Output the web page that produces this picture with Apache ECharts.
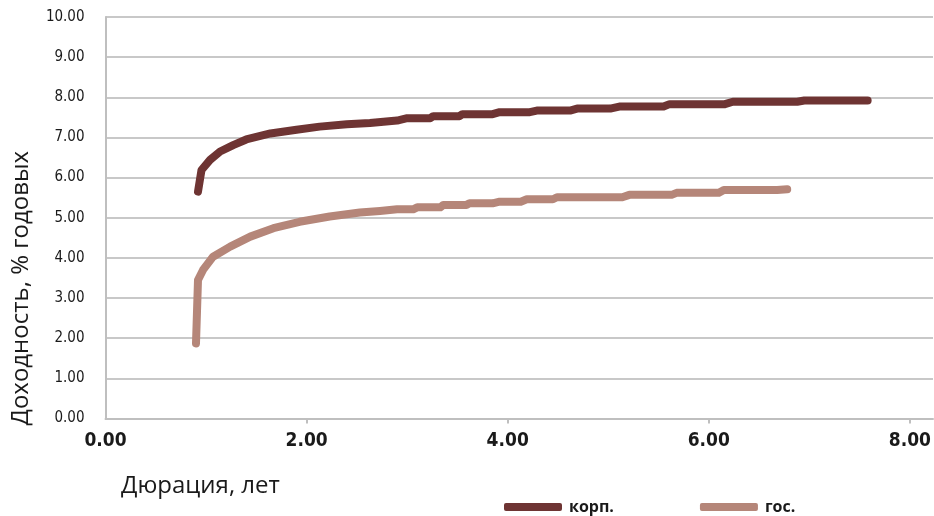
<!DOCTYPE html>
<html><head><meta charset="utf-8">
<script src="https://cdn.jsdelivr.net/npm/echarts@6/dist/echarts.min.js"></script>
<style>html,body{margin:0;padding:0;background:#fff}#c{width:934px;height:516px}</style>
</head><body><div id="c"></div>
<script>
var seriesNames = ['корп.', 'гос.'];
var corpX = [0.92,0.955,1.04,1.14,1.27,1.40,1.64,1.90,2.13,2.40,2.63,2.90,3.00,3.23,3.26,3.52,3.55,3.85,3.92,4.22,4.29,4.62,4.69,5.02,5.11,5.55,5.61,6.16,6.24,6.88,6.95,7.58];
var corpY = [5.65,6.19,6.44,6.65,6.81,6.95,7.10,7.19,7.27,7.33,7.36,7.42,7.48,7.48,7.53,7.53,7.58,7.58,7.63,7.63,7.67,7.67,7.72,7.72,7.77,7.77,7.83,7.83,7.89,7.89,7.92,7.92];
var govX = [0.90,0.92,0.97,1.07,1.24,1.44,1.67,1.93,2.23,2.53,2.73,2.90,3.06,3.10,3.33,3.36,3.59,3.62,3.85,3.92,4.13,4.19,4.45,4.49,5.14,5.21,5.63,5.68,6.10,6.15,6.68,6.78];
var govY = [1.87,3.45,3.70,4.03,4.28,4.53,4.74,4.90,5.03,5.13,5.17,5.21,5.21,5.26,5.26,5.32,5.32,5.36,5.36,5.40,5.40,5.46,5.46,5.51,5.51,5.57,5.57,5.62,5.62,5.69,5.69,5.71];
var xTickLabels = [0, 2, 4, 6, 8];
var yAxisTitle = 'Доходность, % годовых';
var xAxisTitle = 'Дюрация, лет';

function pairs(xs, ys){ return xs.map(function(x,i){ return [x, ys[i]]; }); }

var chart = echarts.init(document.getElementById('c'), null, {renderer:'canvas'});
var narrow = "'Liberation Sans Narrow','DejaVu Sans Condensed',sans-serif";
chart.setOption({
  animation: false,
  grid: {left: 105.5, right: 1, top: 17, bottom: 97.5, containLabel: false},
  xAxis: {
    type: 'value', min: 0, max: 8.23,
    axisLine: {show: true, lineStyle: {color: '#bfbfbf', width: 2}},
    axisTick: {show: true, length: 5, lineStyle: {color: '#bfbfbf', width: 2}, customValues: [2,4,6,8]},
    axisLabel: {customValues: xTickLabels, margin: 13, fontFamily: narrow, fontWeight: 'bold', fontSize: 19, color: '#1a1a1a',
      formatter: function(v){ return v.toFixed(2); }},
    splitLine: {show: false}
  },
  yAxis: {
    type: 'value', min: 0, max: 10, interval: 1,
    axisLine: {show: true, lineStyle: {color: '#bfbfbf', width: 2}},
    axisTick: {show: false},
    axisLabel: {margin: 21, fontFamily: narrow, fontSize: 15, color: '#1a1a1a',
      formatter: function(v){ return v.toFixed(2); }},
    splitLine: {show: true, lineStyle: {color: '#c8c8c8', width: 2}}
  },
  legend: {
    left: 499, top: 494, itemWidth: 58, itemHeight: 8, itemGap: 86, icon: 'roundRect',
    textStyle: {fontFamily: "'Open Sans',sans-serif", fontWeight: 'bold', fontSize: 16, color: '#1a1a1a', padding: [0,0,0,2]},
    data: seriesNames
  },
  graphic: [
    {type: 'text', left: 9, top: 151, rotation: Math.PI/2,
      style: {text: yAxisTitle, font: "24px 'Open Sans', sans-serif", fill: '#1a1a1a'}},
    {type: 'text', left: 121, top: 474,
      style: {text: xAxisTitle, font: "24px 'Open Sans', sans-serif", fill: '#1a1a1a'}}
  ],
  series: [
    {name: seriesNames[0], type: 'line', data: pairs(corpX, corpY), showSymbol: false, symbol: 'none',
      lineStyle: {color: '#6e3433', width: 8, cap: 'round', join: 'round'}, itemStyle: {color: '#6e3433'}},
    {name: seriesNames[1], type: 'line', data: pairs(govX, govY), showSymbol: false, symbol: 'none',
      lineStyle: {color: '#b58679', width: 8, cap: 'round', join: 'round'}, itemStyle: {color: '#b58679'}}
  ]
});
</script></body></html>
